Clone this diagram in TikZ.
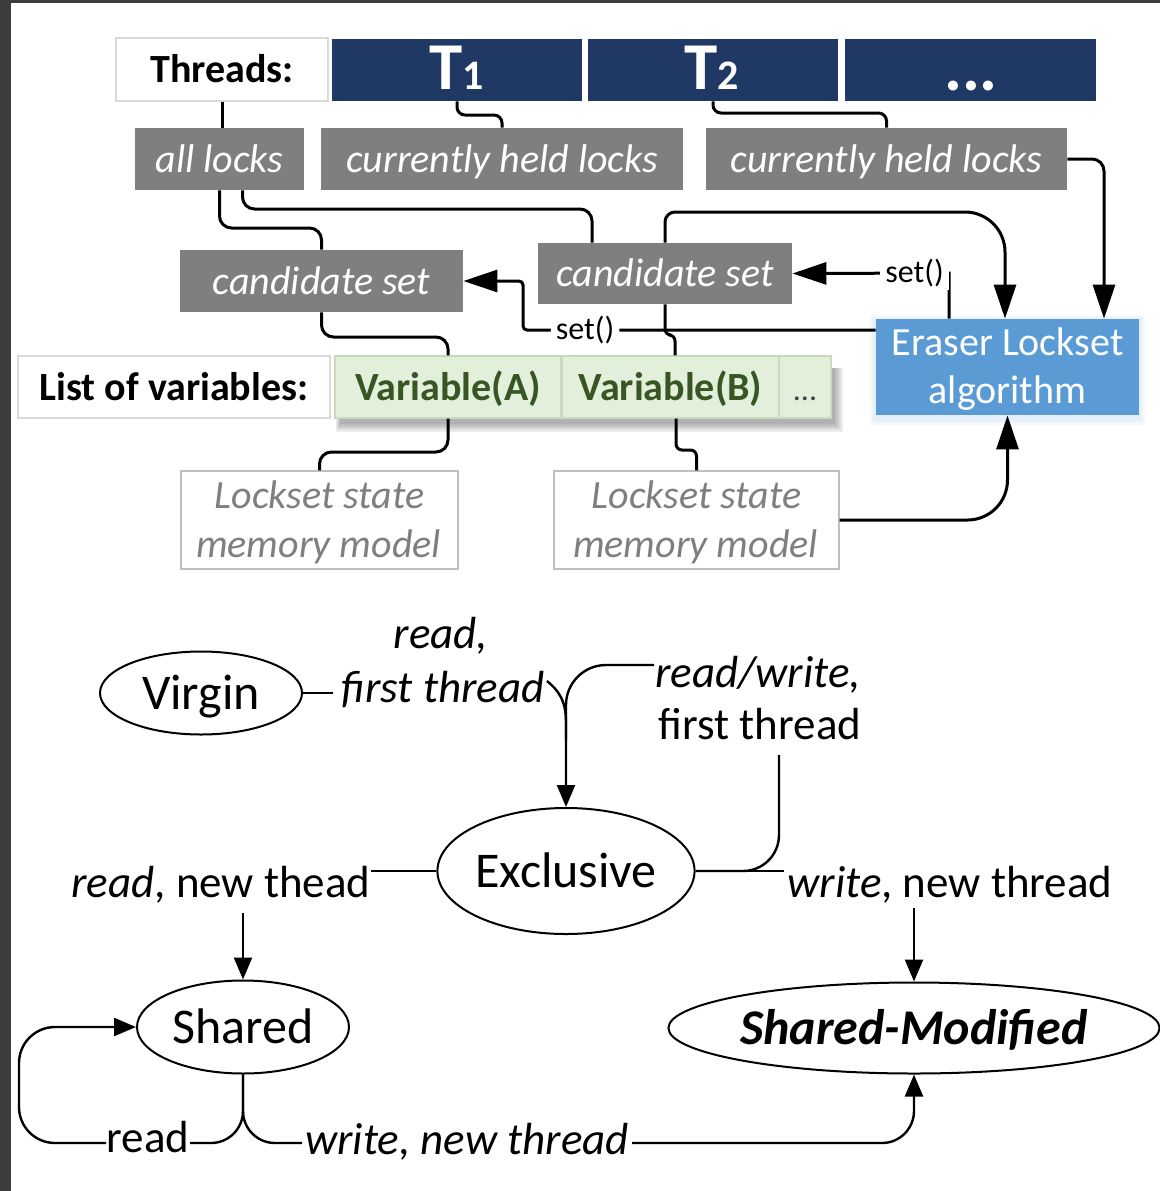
\documentclass[tikz,border=0pt]{standalone}
\usepackage{fontspec}
\setmainfont{Carlito}
\usetikzlibrary{arrows.meta,shapes.geometric}
\definecolor{navy}{HTML}{203864}
\definecolor{boxgray}{HTML}{7F7F7F}
\definecolor{eraserblue}{HTML}{5B9BD5}
\definecolor{varfill}{HTML}{E2EFDA}
\definecolor{varline}{HTML}{C9D9BE}
\definecolor{vartext}{HTML}{375623}
\definecolor{lsline}{HTML}{BFBFBF}
\definecolor{lstext}{HTML}{7F7F7F}
\definecolor{headline}{HTML}{D9D9D9}
\definecolor{framedark}{HTML}{3C3C3C}
\newcommand{\fsz}[1]{\fontsize{#1}{1.2\dimexpr #1\relax}\selectfont}
\begin{document}
\begin{tikzpicture}[x=0.5pt,y=-0.5pt,
  box/.style={rectangle, inner sep=0pt, text height=16pt, text depth=3pt},
  headbox/.style={box, draw=headline, fill=white, line width=0.6pt, font=\fsz{20pt}\bfseries},
  threadbox/.style={rectangle, inner sep=0pt, fill=navy},
  threadtxt/.style={anchor=base, inner sep=0pt, text=white, font=\fsz{33.5pt}\bfseries},
  lockbox/.style={box, fill=boxgray, text=white, font=\fsz{20pt}\itshape, minimum height=31pt},
  varbox/.style={box, fill=varfill, draw=varline, line width=0.6pt, text=vartext, font=\fsz{20pt}\bfseries, minimum height=31pt},
  lsbox/.style={rectangle, inner sep=0pt, draw=lsline, fill=white, line width=0.6pt, minimum height=49pt},
  lstxt/.style={anchor=base, inner sep=0pt, text=lstext, font=\fsz{20pt}\itshape},
  erasertxt/.style={anchor=base, inner sep=0pt, text=white, font=\fsz{20pt}},
  setlbl/.style={fill=white, inner xsep=2.5pt, inner ysep=1pt, text height=12pt, text depth=3pt, font=\fsz{16pt}},
  conn/.style={line width=1.5pt, rounded corners=4pt},
  tip/.style={-{Triangle[length=17pt,width=11pt]}},
  state/.style={ellipse, draw, line width=1pt, inner sep=0pt, text height=20pt, text depth=4pt, font=\fsz{25pt}},
  lbl/.style={anchor=base, inner sep=0pt, font=\fsz{22.5pt}},
  edge/.style={line width=1.2pt},
  stip/.style={-{Triangle[length=11pt,width=9pt]}}
]
\useasboundingbox (0,0) rectangle (1160,1191);
% dark frame strips along the top and left edge
\fill[framedark] (0,0) rectangle (1160,3);
\fill[framedark] (0,0) rectangle (11,1191);

% ---------- thread row ----------
\node[headbox, minimum width=106pt, minimum height=31.5pt] (threads) at (222,69.5) {Threads:};
\node[threadbox, minimum width=125pt, minimum height=31pt] (t1) at (457,70) {};
\node[threadbox, minimum width=125pt, minimum height=31pt] (t2) at (713,70) {};
\node[threadbox, minimum width=125.5pt, minimum height=31pt] (tn) at (970.5,70) {};
\node[threadtxt] (t1txt) at (457,89) {T{\fsz{21pt}1}};
\node[threadtxt] (t2txt) at (712,89) {T{\fsz{21pt}2}};
\node[threadtxt] (tntxt) at (971,90) {...};

% ---------- lock sets ----------
\node[lockbox, minimum width=84.5pt] (alllocks) at (219.5,159) {all locks};
\node[lockbox, minimum width=181pt] (chl1) at (502,159) {currently held locks};
\node[lockbox, minimum width=180.5pt] (chl2) at (886.5,159) {currently held locks};
\node[lockbox, minimum width=141.5pt] (cand1) at (321.5,281) {candidate set};
\node[lockbox, minimum width=127pt, minimum height=30.5pt] (cand2) at (665,273.5) {candidate set};

% ---------- checker ----------
\foreach \k in {2,4,6}
  \fill[eraserblue, opacity=0.06] (876-\k,321-\k) rectangle (1139+\k,419+\k);
\node[rectangle, inner sep=0pt, fill=eraserblue, minimum width=131.5pt, minimum height=48pt] (eraser) at (1007.5,367) {};
\node[erasertxt] (erasertxtA) at (1007.5,355) {Eraser Lockset};
\node[erasertxt] (erasertxtB) at (1007.5,403) {algorithm};

% ---------- variables ----------
\foreach \k in {0,2,4,6,8}
  \fill[black, opacity=0.07] (340-0.5*\k,368) rectangle (835+\k,424+\k);
\node[headbox, minimum width=156pt, minimum height=31pt] (vars) at (174,387) {List of variables:};
\node[varbox, minimum width=113pt] (varA) at (448,387) {Variable(A)};
\node[varbox, minimum width=108.5pt] (varB) at (670.5,387) {Variable(B)};
\node[varbox, minimum width=26pt, font=\fsz{16pt}, text=black!75] (varN) at (805,387) {...};

% ---------- per-variable state ----------
\node[lsbox, minimum width=138.5pt] (ls1) at (319.5,520) {};
\node[lstxt] (ls1a) at (319.5,508) {Lockset state};
\node[lstxt] (ls1b) at (318.5,557) {memory model};
\node[lsbox, minimum width=142.5pt] (ls2) at (696.5,520) {};
\node[lstxt] (ls2a) at (696.5,508) {Lockset state};
\node[lstxt] (ls2b) at (695.5,557) {memory model};

% ---------- upper connectors ----------
\draw[conn] (threads.south) -- (threads.south |- alllocks.north);
\draw[conn] (t1.south) -- (457,115) -- (502,115) -- (chl1.north);
\draw[conn] (t2.south) -- (713,113) -- (886.5,113) -- (chl2.north);
\draw[conn, rounded corners=6pt] (alllocks.south) -- (219.5,228) -- (321.5,228) -- (cand1.north);
\draw[conn, rounded corners=6pt] ([xshift=11.5pt]alllocks.south) -- (242.5,209) -- (592,209) -- (592,0 |- cand2.north);
\draw[conn, tip, rounded corners=6pt] (chl2.east) -- (1104,159) -- (1104,0 |- eraser.north);
\draw[conn, tip] (cand2.north) [rounded corners=5pt] -- (665,212) [rounded corners=20pt] -- (1005,212) -- (1005,0 |- eraser.north);
\draw[conn, tip, rounded corners=0pt] (949,0 |- eraser.north) -- (949,273) -- node[setlbl, pos=0.22] (setB) {set()} (cand2.east);
\draw[conn, tip, rounded corners=2pt] (eraser.west |- 0,330) -- node[setlbl, pos=0.824] (setA) {set()} (523,330) -- (523,281) -- (cand1.east);
\draw[conn, rounded corners=6pt] (cand1.south) -- (321.5,337) -- (448,337) -- (varA.north);
\draw[conn, rounded corners=3pt] (cand2.south) -- (665,335) -- (675,335) -- (675,0 |- varB.north);
\draw[conn, rounded corners=6pt] (varA.south) -- (448,452) -- (319.5,452) -- (ls1.north);
\draw[conn, rounded corners=3pt] (676,0 |- varB.south) -- (676,450) -- (696.5,450) -- (ls2.north);
\draw[conn, tip, rounded corners=20pt] (ls2.east) -- (1007.5,520) -- (eraser.south);

% ---------- state machine ----------
\node[state, minimum width=101pt, minimum height=41.5pt] (virgin) at (201,693) {Virgin};
\node[state, minimum width=124pt, minimum height=63pt] (excl) at (566,871) {Exclusive};
\node[state, minimum width=106pt, minimum height=46.5pt] (shared) at (243,1027) {Shared};
\node[state, minimum width=243pt, minimum height=45.5pt, font=\fsz{25pt}\bfseries\itshape] (sm) at (914,1028) {Shared-Modified};

\node[lbl] (lreadA) at (441,648) {\itshape read,};
\node[lbl] (lfirstA) at (443,702) {\itshape first thread};
\node[lbl] (lrw) at (758,687) {\itshape read/write,};
\node[lbl] (lfirstB) at (760,739) {first thread};
\node[lbl] (lrnt) at (221,897) {\textit{read}, new thead};
\node[lbl] (lwnt) at (950,897) {\textit{write}, new thread};
\node[lbl] (lread) at (148,1152) {read};
\node[lbl] (lwnt2) at (467,1154) {\itshape write, new thread};

\coordinate (vEnd) at (333,693);
\coordinate (fA) at (547,681);
\coordinate (rwStart) at (654,665);
\coordinate (rwBottom) at (779,755);
\coordinate (wEnd) at (784,871);
\coordinate (rEnd) at (371,871);
\coordinate (rTop) at (243,913);
\coordinate (wTop) at (914,908);
\coordinate (readR) at (190,1143);
\coordinate (readL) at (106,1143);
\coordinate (wL) at (302,1143);
\coordinate (wR) at (632,1143);

\draw[edge] (virgin.east) -- (vEnd);
\draw[edge, stip] (fA) .. controls (558,690) and (566,700) .. (566,722) -- (excl.north);
\draw[edge, rounded corners=20pt] (rwStart) -- (566,665) -- (566,740);
\draw[edge, rounded corners=18pt] (excl.east) -- (779,871) -- (rwBottom);
\draw[edge] (excl.east) -- (wEnd);
\draw[edge] (excl.west) -- (rEnd);
\draw[edge, stip] (rTop) -- (shared.north);
\draw[edge, stip] (wTop) -- (sm.north);
\draw[edge, rounded corners=16pt] (shared.south) -- (243,1143) -- (readR);
\draw[edge, stip, rounded corners=18pt] (readL) -- (19,1143) -- (19,1027) -- (shared.west);
\draw[edge, rounded corners=16pt] (shared.south) -- (243,1143) -- (wL);
\draw[edge, stip, rounded corners=16pt] (wR) -- (914,1143) -- (sm.south);
\end{tikzpicture}
\end{document}
